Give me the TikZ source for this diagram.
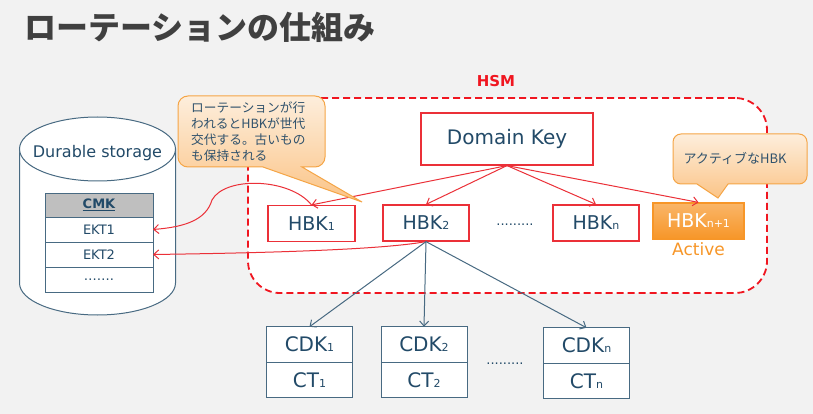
\documentclass[tikz,border=0pt]{standalone}
\usepackage{fontspec}
\setmainfont{DejaVu Sans}
\newfontfamily\jpfont{Noto Sans CJK JP}
\usetikzlibrary{arrows.meta,positioning}
\definecolor{bg}{RGB}{242,242,242}
\definecolor{keyred}{RGB}{235,48,56}
\definecolor{hsmred}{RGB}{240,22,32}
\definecolor{ink}{RGB}{34,74,104}
\definecolor{slate}{RGB}{72,106,130}
\definecolor{act}{RGB}{247,150,40}
\definecolor{noteedge}{RGB}{245,165,70}
\definecolor{notetop}{RGB}{253,238,220}
\definecolor{notebot}{RGB}{251,196,135}
\definecolor{titlegray}{RGB}{64,64,64}
\newcommand\ix[1]{{\fontsize{11}{11}\selectfont #1}}

\begin{document}
\begin{tikzpicture}[x=1pt,y=-1pt,
  key/.style={draw=keyred,fill=white,line width=1.2pt,text=ink,inner sep=0pt},
  hbk/.style={key,minimum width=86pt,minimum height=36pt,font=\fontsize{19}{19}\selectfont},
  cdk/.style={draw=slate,fill=white,line width=1pt,text=ink,inner sep=0pt,outer sep=0pt,
    minimum width=86pt,minimum height=35.5pt,font=\fontsize{20}{20}\selectfont},
  cell/.style={draw=slate,fill=white,line width=1pt,text=ink,inner sep=0pt,outer sep=0pt,
    minimum width=108pt,minimum height=25pt,font=\fontsize{13}{13}\selectfont},
  ar/.style={-{Straight Barb[length=5pt,width=9pt]},line width=1pt},
  note/.style={draw=noteedge,line width=1pt,top color=notetop,bottom color=notebot},
  notetext/.style={text=ink!85!gray,align=left,inner sep=0pt}]
\fill[bg] (0,0) rectangle (813,414);
\useasboundingbox (0,0) rectangle (813,414);
\node[anchor=west,inner sep=0pt,text=titlegray,font=\jpfont\bfseries\fontsize{32}{32}\selectfont] (title) at (24,27) {ローテーションの仕組み};

% durable storage
\filldraw[fill=white,draw=slate,line width=1pt] (19.5,149) -- (19.5,283) .. controls (19.5,300.7) and (54.4,315) .. (97.5,315)
  .. controls (140.6,315) and (175.5,300.7) .. (175.5,283) -- (175.5,149) -- cycle;
\filldraw[fill=white,draw=slate,line width=1pt] (97.5,149) ellipse [x radius=78,y radius=32];
\node[text=ink,font=\fontsize{16}{16}\selectfont] (store) at (97.5,153) {Durable storage};
\node[cell,fill=gray!50,minimum height=24pt,font=\bfseries\fontsize{13}{13}\selectfont] (cmk) at (99,205) {\underline{CMK}};
\node[cell,below=0pt of cmk] (ekt1) {EKT1};
\node[cell,below=0pt of ekt1] (ekt2) {EKT2};
\node[cell,below=0pt of ekt2] (etc) {…….};

% HSM
\node[draw=hsmred,fill=white,line width=1.8pt,dash pattern=on 7pt off 4pt,rounded corners=32pt,
  minimum width=519pt,minimum height=195pt] (hsm) at (507.5,195.5) {};
\node[text=hsmred,font=\bfseries\fontsize{15}{15}\selectfont] (hsmlbl) at (496,81) {HSM};
\node[key,minimum width=172pt,minimum height=52pt,font=\fontsize{20}{20}\selectfont] (dk) at (507,139) {Domain Key};
\node[hbk,minimum width=87pt] (hbk1) at (311.5,223.5) {HBK\ix{1}};
\node[hbk] (hbk2) at (426,223) {HBK\ix{2}};
\node[hbk] (hbkn) at (596,223) {HBK\ix{n}};
\node[hbk,draw=act,top color=act!70!white,bottom color=act,text=white,minimum width=91pt] (hbkact) at (698.5,221) {HBK\ix{n+1}};
\node[text=act,inner sep=0pt,font=\fontsize{17}{17}\selectfont,below=3pt of hbkact] (actlbl) {Active};
\node[text=ink,anchor=base,font=\fontsize{13}{13}\selectfont] (hdots) at (515,225) {.........};

% CDK / CT
\node[cdk] (cdk1) at (309.5,344.5) {CDK\ix{1}};
\node[cdk,below=0pt of cdk1] (ct1) {CT\ix{1}};
\node[cdk] (cdk2) at (424,344.5) {CDK\ix{2}};
\node[cdk,below=0pt of cdk2] (ct2) {CT\ix{2}};
\node[cdk] (cdkn) at (586.5,345.5) {CDK\ix{n}};
\node[cdk,below=0pt of cdkn] (ctn) {CT\ix{n}};
\node[text=ink,anchor=base,font=\fontsize{13}{13}\selectfont] (cdots) at (505,364) {.........};

\draw[ar,keyred] (dk.south) -- (hbk1.north);
\draw[ar,keyred] (dk.south) -- (hbk2.north);
\draw[ar,keyred] (dk.south) -- (hbkn.north);
\draw[ar,keyred] (dk.south) -- (hbkact.north);
\draw[ar,keyred] (hbk1.north) .. controls (290,178) and (225,176) .. (212,200) .. controls (206,220) and (185,227) .. (ekt1.east);
\draw[ar,keyred] (hbk2.south) .. controls (380,250) and (260,253) .. (ekt2.east);
\draw[ar,slate] (hbk2.south) -- (cdk1.north);
\draw[ar,slate] (hbk2.south) -- (cdk2.north);
\draw[ar,slate] (hbk2.south) -- (cdkn.north);

% callouts
\draw[note] (362,202) -- (263,167) [rounded corners=10pt] -- (178,167) -- (178,96) -- (325,96) -- (325,167) [sharp corners] -- (302,167) -- cycle;
\node[notetext,anchor=north west,font=\jpfont\fontsize{12.7}{15.7}\selectfont] (note1) at (191,102)
  {ローテーションが行\\われるとHBKが世代\\交代する。古いもの\\も保持される};
\draw[note] (718,198) -- (697,184) [rounded corners=8pt] -- (673,184) -- (673,134) -- (807,134) -- (807,184) [sharp corners] -- (728,184) -- cycle;
\node[notetext,font=\jpfont\fontsize{13}{13}\selectfont] (note2) at (735,158) {アクティブなHBK};
\end{tikzpicture}
\end{document}
